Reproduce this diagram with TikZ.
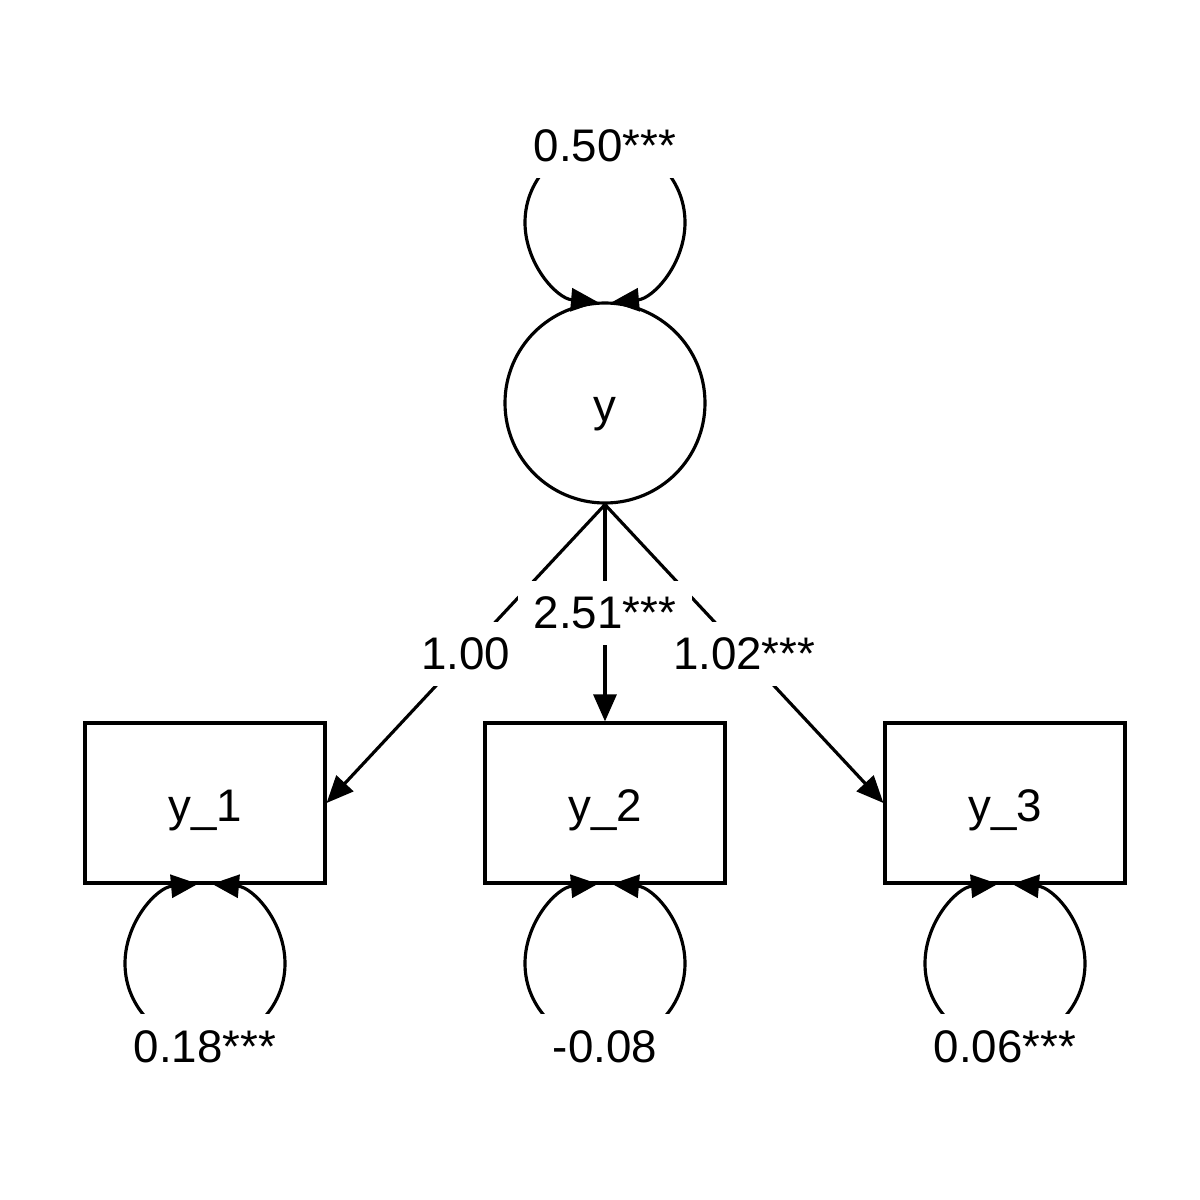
\documentclass[tikz,border=0pt]{standalone}
\usepackage{fontspec}
\setmainfont{Liberation Sans}
\usepackage{tikz}
\usetikzlibrary{arrows.meta, calc}

\begin{document}
\begin{tikzpicture}[
    latent/.style={draw, circle, line width=0.9pt, minimum size=2cm, inner sep=0pt, text height=0.48cm, text depth=0.1cm, font=\fontsize{13}{15}\selectfont},
    manifest/.style={draw, rectangle, line width=0.9pt, minimum width=2.4cm, minimum height=1.6cm, text height=0.48cm, text depth=0.1cm, font=\fontsize{13}{15}\selectfont},
    coef/.style={fill=white, inner sep=0.16cm, font=\fontsize{13}{15}\selectfont},
    loading/.style={line width=0.9pt, -{Triangle[length=0.27cm, width=0.23cm]}}
]
    \useasboundingbox (0,0) rectangle (12,12);

    \node[latent] (y) at (6.05,7.97) {y};
    \node[manifest] (y1) at (2.05,3.97) {y\_1};
    \node[manifest] (y2) at (6.05,3.97) {y\_2};
    \node[manifest] (y3) at (10.05,3.97) {y\_3};

    % loadings
    \draw[loading] (y.south) -- (y1.east);
    \draw[loading] (y.south) -- (y2.north);
    \draw[loading] (y.south) -- (y3.west);

    % variances
    \coordinate (ly) at ($(y.north)+(0,0.79)$);
    \draw[loading] ($(ly)+(90:0.8)$) arc[start angle=90, end angle=265, radius=0.8];
    \draw[loading] ($(ly)+(90:0.8)$) arc[start angle=90, end angle=-85, radius=0.8];
    \foreach \b in {y1,y2,y3} {
        \coordinate (l\b) at ($(\b.south)+(0,-0.79)$);
        \draw[loading] ($(l\b)+(270:0.8)$) arc[start angle=270, end angle=95, radius=0.8];
        \draw[loading] ($(l\b)+(-90:0.8)$) arc[start angle=-90, end angle=85, radius=0.8];
    }

    % labels
    \path (y.south) -- (y2.north) node[coef, pos=0.5] {2.51***};
    \path (y.south) -- (y1.east) node[coef, pos=0.5] {1.00};
    \path (y.south) -- (y3.west) node[coef, pos=0.5] {1.02***};
    \node[coef] at ($(ly)+(0,0.77)$) {0.50***};
    \node[coef] at ($(ly1)+(0,-0.83)$) {0.18***};
    \node[coef] at ($(ly2)+(0,-0.83)$) {-0.08};
    \node[coef] at ($(ly3)+(0,-0.83)$) {0.06***};
\end{tikzpicture}
\end{document}
